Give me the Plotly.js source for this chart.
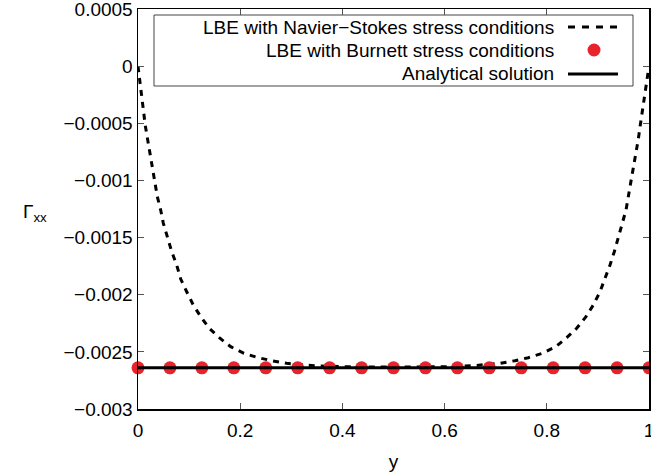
<!DOCTYPE html>
<html>
<head>
<meta charset="utf-8">
<script src="https://cdn.plot.ly/plotly-3.0.1.min.js"></script>
<style>html,body{margin:0;padding:0;background:#fff}#chart{width:651px;height:474px}</style>
</head>
<body>
<div id="chart"></div>
<script>
// Navier–Stokes stress conditions (dashed curve)
const nsX = [0, 0.0039, 0.0072, 0.0111, 0.0143, 0.019, 0.0235, 0.028, 0.0327, 0.0378, 0.0444, 0.0495, 0.0581, 0.066, 0.0757, 0.0836, 0.0953, 0.1082, 0.1227, 0.1395, 0.1591, 0.1814, 0.2074, 0.2354, 0.2616, 0.291, 0.345, 0.4, 0.5, 0.6, 0.6562, 0.7084, 0.7378, 0.7638, 0.7912, 0.8174, 0.8389, 0.8585, 0.8767, 0.891, 0.9041, 0.9139, 0.9237, 0.9321, 0.9399, 0.9478, 0.955, 0.9595, 0.9648, 0.9701, 0.9746, 0.9791, 0.983, 0.9869, 0.9908, 0.9947, 1.0];
const nsY = [0, -0.000145, -0.000267, -0.000399, -0.000521, -0.000646, -0.000769, -0.000894, -0.001016, -0.001142, -0.001259, -0.001373, -0.001504, -0.001624, -0.00174, -0.001863, -0.001974, -0.00209, -0.002192, -0.002294, -0.002376, -0.002455, -0.002513, -0.002551, -0.002577, -0.0026, -0.002621, -0.00263, -0.002633, -0.00263, -0.002621, -0.0026, -0.002577, -0.002551, -0.002513, -0.002455, -0.002376, -0.002294, -0.002192, -0.00209, -0.001974, -0.001863, -0.00174, -0.001624, -0.001504, -0.001373, -0.001259, -0.001142, -0.001011, -0.000885, -0.000763, -0.000638, -0.000515, -0.00039, -0.000267, -0.000145, 0];
// Burnett stress conditions (red dots)
const burnettX = [0, 0.0625, 0.125, 0.1875, 0.25, 0.3125, 0.375, 0.4375, 0.5, 0.5625, 0.625, 0.6875, 0.75, 0.8125, 0.875, 0.9375, 1.0];
const burnettY = [-0.00264, -0.00264, -0.00264, -0.00264, -0.00264, -0.00264, -0.00264, -0.00264, -0.00264, -0.00264, -0.00264, -0.00264, -0.00264, -0.00264, -0.00264, -0.00264, -0.00264];
// Analytical solution
const anaX = [0, 1];
const anaY = [-0.00264, -0.00264];
// Ticks
const xTickVals = [0, 0.2, 0.4, 0.6, 0.8, 1];
const xTickText = ['0', '0.2', '0.4', '0.6', '0.8', '1'];
const yTickVals = [0.0005, 0, -0.0005, -0.001, -0.0015, -0.002, -0.0025, -0.003];
const yTickText = ['0.0005', '0', '\u22120.0005', '\u22120.001', '\u22120.0015', '\u22120.002', '\u22120.0025', '\u22120.003'];
// Legend labels
const legendLabels = ['LBE with Navier\u2212Stokes stress conditions', 'LBE with Burnett stress conditions', 'Analytical solution'];

const FONT = 'Liberation Sans, Arial, Helvetica, sans-serif';
const RED = '#e8232b';

const traces = [
  {x: nsX, y: nsY, mode: 'lines', line: {color: '#000', width: 3, dash: '6px,6px'}, showlegend: false},
  {x: burnettX, y: burnettY, mode: 'markers', marker: {color: RED, size: 13}, cliponaxis: false, showlegend: false},
  {x: anaX, y: anaY, mode: 'lines', line: {color: '#000', width: 3}, showlegend: false}
];

const rowY = [0.955, 0.8975, 0.8375];
const annotations = legendLabels.map((t, i) => ({
  xref: 'paper', yref: 'paper', x: 0.818, y: rowY[i], xanchor: 'right', yanchor: 'middle',
  text: t, showarrow: false, font: {family: FONT, size: 19, color: '#000'}
}));
annotations.push({
  xref: 'paper', yref: 'paper', x: -0.228, y: 0.49, xanchor: 'left', yanchor: 'middle',
  text: '\u0393<sub style="font-size:15px">xx</sub>', showarrow: false, font: {family: FONT, size: 19, color: '#000'}
});

const shapes = [
  {type: 'rect', xref: 'paper', yref: 'paper', x0: 0.0313, x1: 0.9687, y0: 0.8075, y1: 0.985,
   line: {color: '#444', width: 1}, fillcolor: 'rgba(0,0,0,0)'},
  {type: 'line', xref: 'paper', yref: 'paper', x0: 0.8415, x1: 0.9393, y0: rowY[0], y1: rowY[0],
   line: {color: '#000', width: 3, dash: '7px,7px'}},
  {type: 'circle', xref: 'paper', yref: 'paper', x0: 0.8924 - 6.5/511, x1: 0.8924 + 6.5/511,
   y0: rowY[1] - 6.5/400, y1: rowY[1] + 6.5/400, line: {width: 0}, fillcolor: RED},
  {type: 'line', xref: 'paper', yref: 'paper', x0: 0.8415, x1: 0.9393, y0: rowY[2], y1: rowY[2],
   line: {color: '#000', width: 3}}
];

const layout = {
  width: 651, height: 474,
  margin: {l: 138, r: 2, t: 9, b: 65, pad: 0},
  paper_bgcolor: '#fff', plot_bgcolor: '#fff',
  font: {family: FONT, size: 19, color: '#000'},
  showlegend: false,
  xaxis: {
    range: [0, 1], tickvals: xTickVals, ticktext: xTickText,
    ticks: 'inside', ticklen: 6, tickcolor: '#555', tickwidth: 1,
    showline: true, linecolor: '#000', linewidth: 1.5, mirror: 'ticks',
    showgrid: false, zeroline: false, ticklabeloverflow: 'allow', ticklabelstandoff: 4,
    tickfont: {family: FONT, size: 19, color: '#000'},
    title: {text: 'y', font: {family: FONT, size: 19, color: '#000'}, standoff: 14}
  },
  yaxis: {
    range: [-0.003, 0.0005], tickvals: yTickVals, ticktext: yTickText,
    ticks: 'inside', ticklen: 6, tickcolor: '#555', tickwidth: 1,
    showline: true, linecolor: '#000', linewidth: 1.5, mirror: 'ticks',
    showgrid: false, zeroline: false, ticklabeloverflow: 'allow',
    tickfont: {family: FONT, size: 19, color: '#000'}
  },
  annotations: annotations,
  shapes: shapes
};

Plotly.newPlot('chart', traces, layout, {staticPlot: true, displayModeBar: false});
</script>
</body>
</html>
